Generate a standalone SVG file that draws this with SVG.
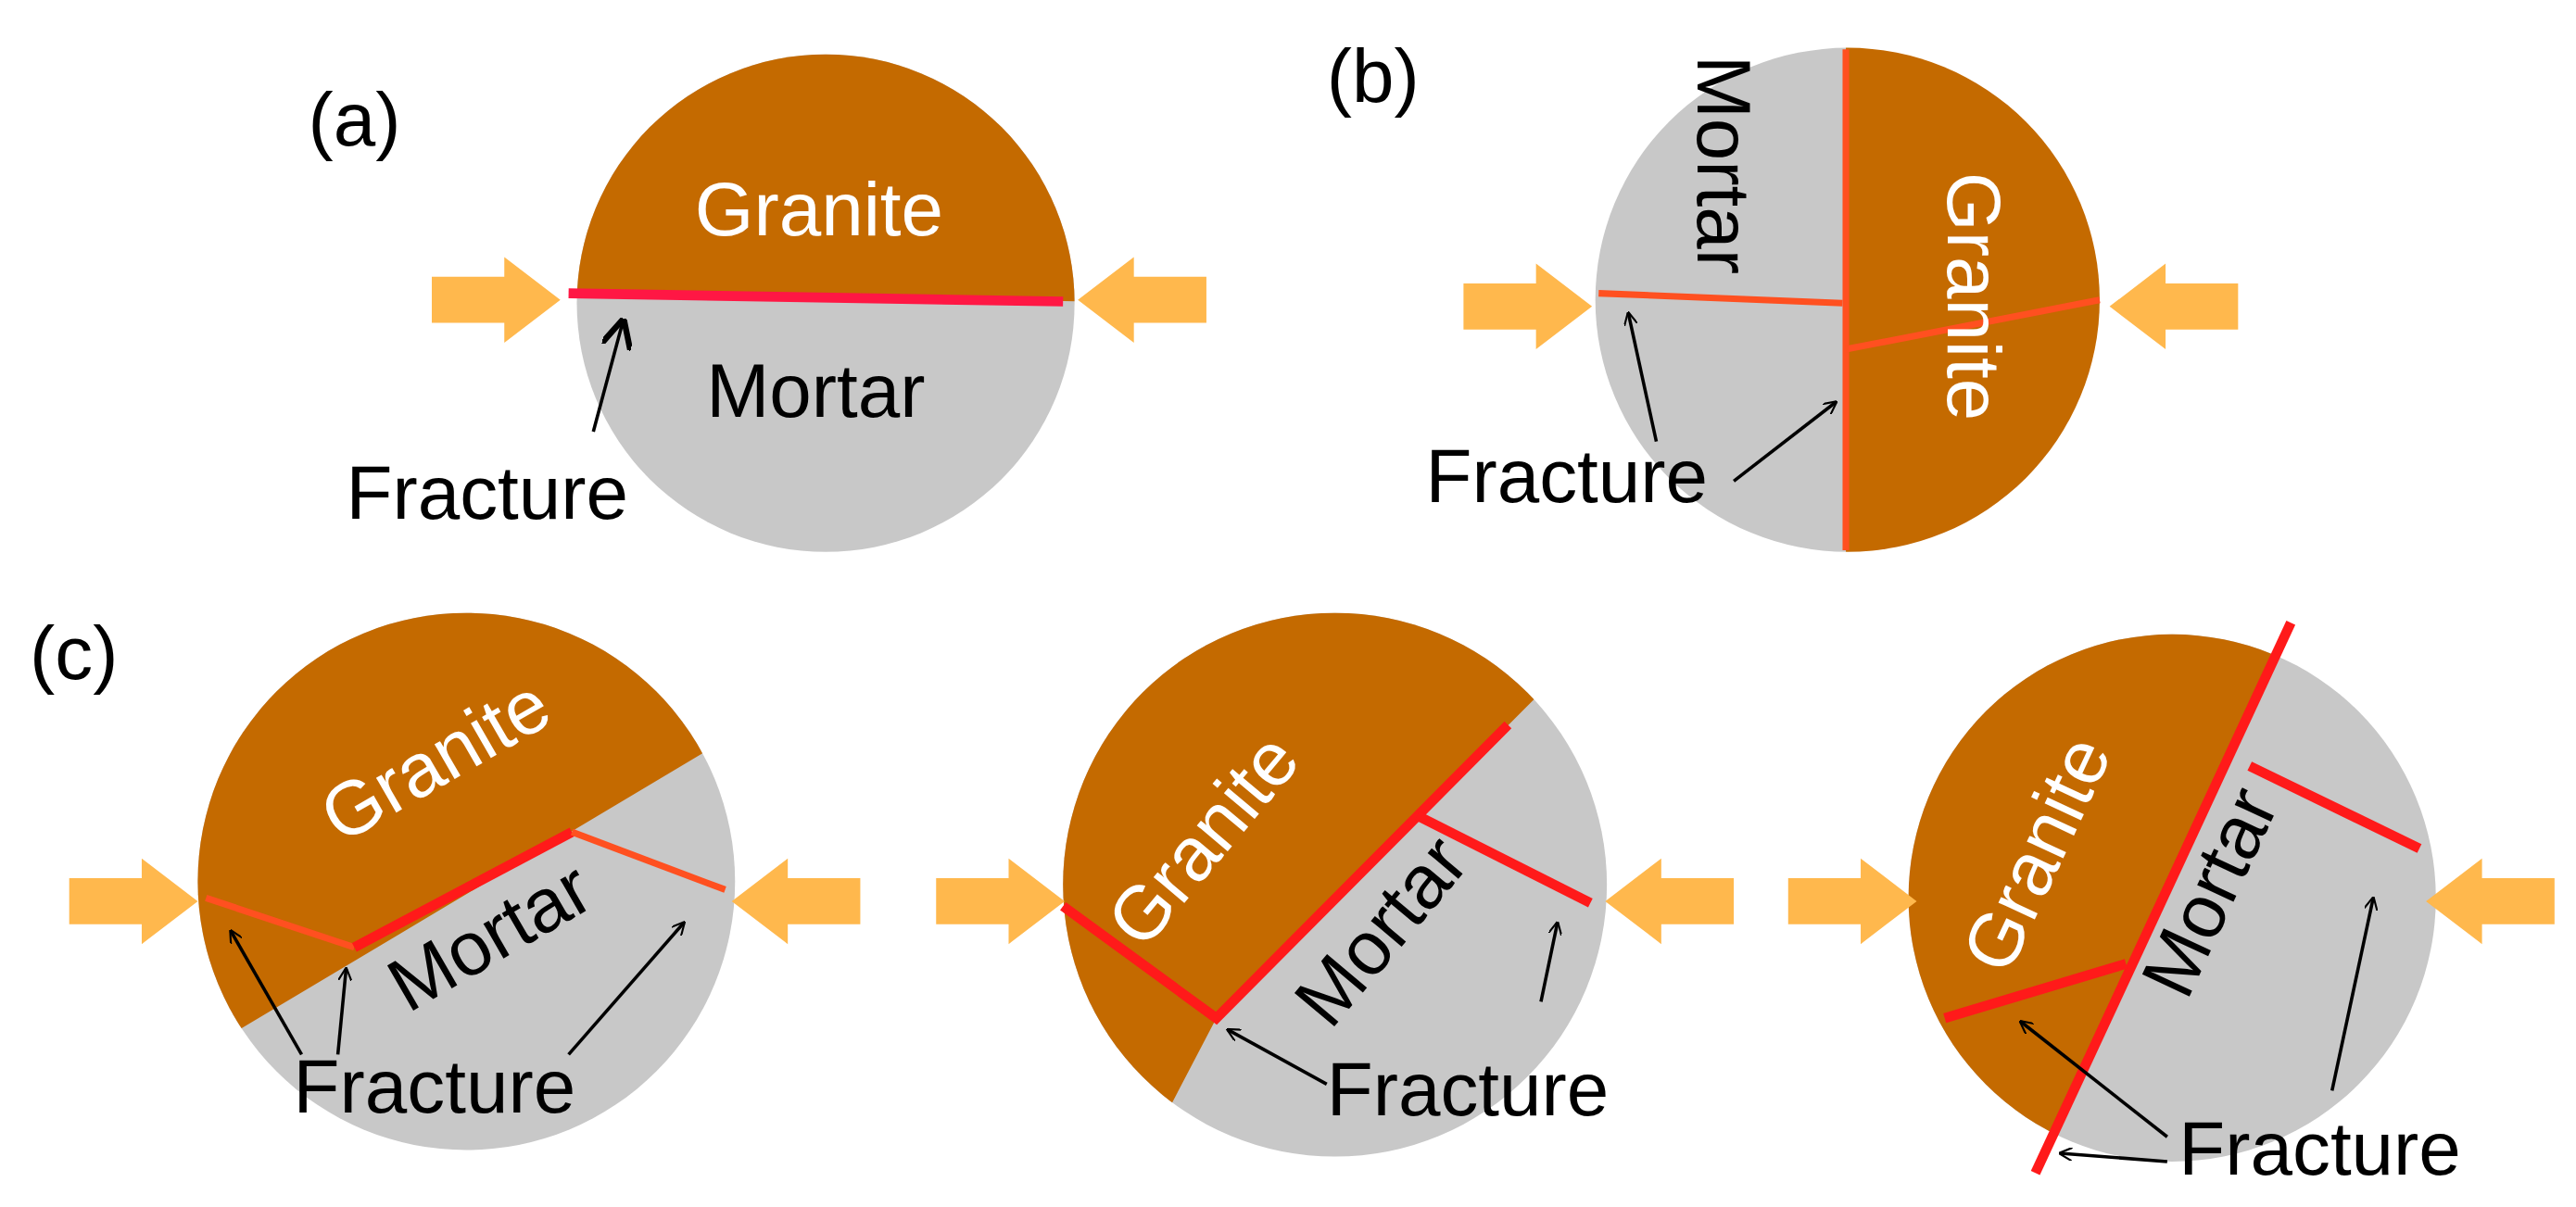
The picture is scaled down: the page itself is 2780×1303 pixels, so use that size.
<svg xmlns="http://www.w3.org/2000/svg" width="2780" height="1303" viewBox="0 0 2780 1303">
<defs>
<style>
.g{fill:#C46A00}.m{fill:#C8C8C8}
.t{font-family:"Liberation Sans",Arial,sans-serif;font-size:46px}
.w{fill:#fff}.k{fill:#000}
.fr{stroke:#FF1A1A;stroke-width:6;stroke-linecap:butt;fill:none}
.fo{stroke:#FF5020;stroke-width:4;fill:none}
.ln{stroke:#000;stroke-width:2;fill:none}
.ar{fill:#FFB84D}
</style>
<marker id="ah" viewBox="0 0 10 10" refX="9" refY="5" markerWidth="8" markerHeight="8" orient="auto" markerUnits="userSpaceOnUse"><path d="M0,0 L10,5 L0,10" fill="none" stroke="#000" stroke-width="1.5"/></marker>
<marker id="ahb" viewBox="0 0 10 10" refX="9" refY="5" markerWidth="18" markerHeight="18" orient="auto" markerUnits="userSpaceOnUse"><path d="M0,0 L10,5 L0,10" fill="none" stroke="#000" stroke-width="2"/></marker>
<path id="rA" d="M0,-14 H44 V-26 L78,0 L44,26 V14 H0 Z"/>
<clipPath id="ca"><circle cx="501" cy="184" r="151"/></clipPath>
<clipPath id="cb"><circle cx="1121" cy="182" r="153"/></clipPath>
<clipPath id="c1"><circle cx="283" cy="535" r="163"/></clipPath>
<clipPath id="c2"><circle cx="810" cy="537" r="165"/></clipPath>
<clipPath id="c3"><circle cx="1318" cy="545" r="160"/></clipPath>
</defs>
<rect width="2780" height="1303" fill="#fff"/>
<g transform="scale(1.7786)">
<g id="panel-a">
<text class="t k" x="187" y="88">(a)</text>
<g clip-path="url(#ca)"><rect class="m" x="340" y="30" width="320" height="320"/><path class="g" d="M340,20 H660 V183 L345,177 H340 Z"/></g>
<line x1="345" y1="178" x2="645" y2="183" stroke="#FF1744" stroke-width="6"/>
<text class="t w" x="497" y="143" text-anchor="middle">Granite</text>
<text class="t k" x="495" y="253" text-anchor="middle">Mortar</text>
<text class="t k" x="210" y="315">Fracture</text>
<line class="ln" x1="360" y1="262" x2="378" y2="195" stroke-width="3" marker-end="url(#ahb)"/>
<use href="#rA" class="ar" x="262" y="182"/>
<use href="#rA" class="ar" transform="translate(732,182) scale(-1,1)"/>
</g>
<g id="panel-b">
<text class="t k" x="805" y="62">(b)</text>
<g clip-path="url(#cb)"><rect class="m" x="960" y="20" width="160" height="330"/><rect class="g" x="1120" y="20" width="170" height="330"/></g>
<line class="fo" x1="1120" y1="30" x2="1120" y2="334" stroke-width="5"/>
<line class="fo" x1="970" y1="178" x2="1118" y2="184"/>
<line class="fo" x1="1120" y1="212" x2="1274" y2="182"/>
<text class="t k" transform="translate(1030,100) rotate(90)" text-anchor="middle">Mortar</text>
<text class="t w" transform="translate(1182,180) rotate(90)" text-anchor="middle">Granite</text>
<text class="t k" x="865" y="305">Fracture</text>
<line class="ln" x1="1005" y1="268" x2="988" y2="190" marker-end="url(#ah)"/>
<line class="ln" x1="1052" y1="292" x2="1114" y2="244" marker-end="url(#ah)"/>
<use href="#rA" class="ar" x="888" y="186"/>
<use href="#rA" class="ar" transform="translate(1358,186) scale(-1,1)"/>
</g>
<g id="panel-c">
<text class="t k" x="18" y="412">(c)</text>
</g>
<g id="c-1">
<g clip-path="url(#c1)"><rect class="m" x="110" y="360" width="350" height="350"/><path class="g" d="M100,360 H460 L430,455 L120,640 L100,660 Z"/></g>
<line class="fo" x1="125" y1="545" x2="215" y2="575"/>
<line class="fr" x1="215" y1="575" x2="347" y2="505"/>
<line class="fo" x1="347" y1="505" x2="440" y2="540"/>
<text class="t w" transform="translate(272,475) rotate(-30)" text-anchor="middle">Granite</text>
<text class="t k" transform="translate(305,582) rotate(-30)" text-anchor="middle">Mortar</text>
<text class="t k" x="178" y="675">Fracture</text>
<line class="ln" x1="183" y1="640" x2="140" y2="565" marker-end="url(#ah)"/>
<line class="ln" x1="205" y1="640" x2="210" y2="588" marker-end="url(#ah)"/>
<line class="ln" x1="345" y1="640" x2="415" y2="560" marker-end="url(#ah)"/>
<use href="#rA" class="ar" x="42" y="547"/>
<use href="#rA" class="ar" transform="translate(522,547) scale(-1,1)"/>
</g>
<g id="c-2">
<g clip-path="url(#c2)"><rect class="m" x="640" y="365" width="345" height="345"/><path class="g" d="M630,360 H995 L738,618 L690,710 H630 Z"/></g>
<polyline class="fr" points="645,550 738,618 915,440"/>
<line class="fr" x1="860" y1="495" x2="965" y2="548"/>
<text class="t w" transform="translate(742,520) rotate(-50)" text-anchor="middle">Granite</text>
<text class="t k" transform="translate(850,575) rotate(-50)" text-anchor="middle">Mortar</text>
<text class="t k" x="805" y="677">Fracture</text>
<line class="ln" x1="805" y1="658" x2="745" y2="625" marker-end="url(#ah)"/>
<line class="ln" x1="935" y1="608" x2="945" y2="560" marker-end="url(#ah)"/>
<use href="#rA" class="ar" x="568" y="547"/>
<use href="#rA" class="ar" transform="translate(1052,547) scale(-1,1)"/>
</g>
<g id="c-3">
<g clip-path="url(#c3)"><rect class="m" x="1150" y="380" width="340" height="340"/><path class="g" d="M1150,370 H1394 L1236,712 H1150 Z"/></g>
<line class="fr" x1="1235" y1="712" x2="1390" y2="378"/>
<line class="fr" x1="1180" y1="618" x2="1290" y2="585"/>
<line class="fr" x1="1365" y1="465" x2="1468" y2="515"/>
<text class="t w" transform="translate(1250,525) rotate(-65)" text-anchor="middle">Granite</text>
<text class="t k" transform="translate(1355,548) rotate(-65)" text-anchor="middle">Mortar</text>
<text class="t k" x="1322" y="713">Fracture</text>
<line class="ln" x1="1315" y1="690" x2="1226" y2="620" marker-end="url(#ah)"/>
<line class="ln" x1="1315" y1="705" x2="1250" y2="700" marker-end="url(#ah)"/>
<line class="ln" x1="1415" y1="662" x2="1440" y2="545" marker-end="url(#ah)"/>
<use href="#rA" class="ar" x="1085" y="547"/>
<use href="#rA" class="ar" transform="translate(1550,547) scale(-1,1)"/>
</g>
</g>
</svg>
